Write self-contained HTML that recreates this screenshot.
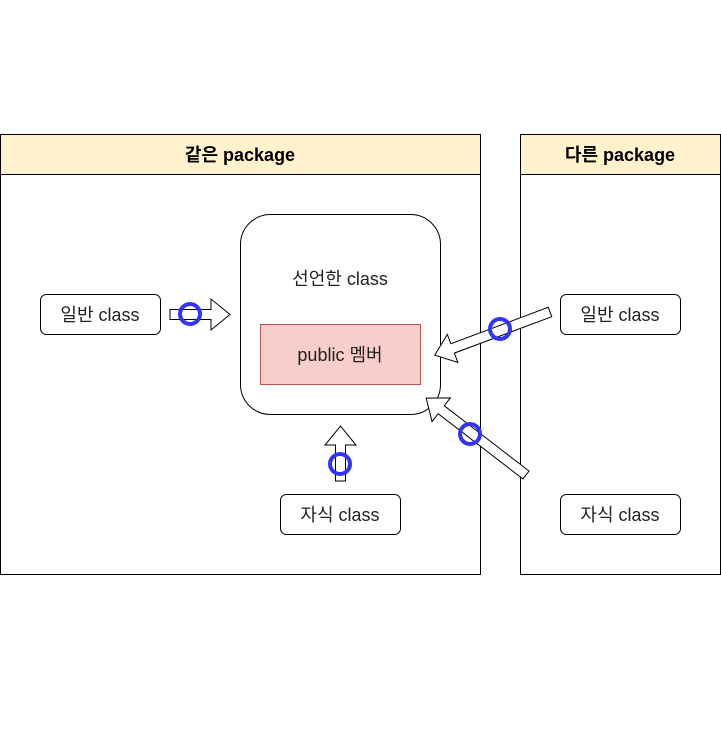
<!DOCTYPE html>
<html><head><meta charset="utf-8"><style>
body{margin:0;background:#fff}
text{font-family:"Liberation Sans","Noto Sans CJK KR",sans-serif}
</style></head><body>
<svg width="721" height="746" xmlns="http://www.w3.org/2000/svg">
<rect x="0.5" y="134.5" width="480" height="440" fill="#fff" stroke="#000"/>
<rect x="0.5" y="134.5" width="480" height="40" fill="#fff2cc" stroke="#000"/>
<text x="240" y="161" text-anchor="middle" font-size="18" font-weight="bold">같은 package</text>
<rect x="520.5" y="134.5" width="200" height="440" fill="#fff" stroke="#000"/>
<rect x="520.5" y="134.5" width="200" height="40" fill="#fff2cc" stroke="#000"/>
<text x="620" y="161" text-anchor="middle" font-size="18" font-weight="bold">다른 package</text>

<rect x="240.5" y="214.5" width="200" height="200" rx="30" fill="#fff" stroke="#000"/>
<text x="340" y="285" text-anchor="middle" font-size="18" fill="#222">선언한 class</text>
<rect x="260.5" y="324.5" width="160" height="60" fill="#f8cecc" stroke="#b85450"/>
<text x="340" y="361" text-anchor="middle" font-size="18" fill="#222">public 멤버</text>

<g fill="#fff" stroke="#000" font-size="18">
<rect x="40.5" y="294.5" width="120" height="40" rx="6"/>
<rect x="280.5" y="494.5" width="120" height="40" rx="6"/>
<rect x="560.5" y="294.5" width="120" height="40" rx="6"/>
<rect x="560.5" y="494.5" width="120" height="40" rx="6"/>
</g>
<g font-size="18" text-anchor="middle" fill="#222">
<text x="100" y="321">일반 class</text>
<text x="340" y="521">자식 class</text>
<text x="620" y="321">일반 class</text>
<text x="620" y="521">자식 class</text>
</g>

<g fill="#fff" stroke="#000">
<polygon points="170,309.5 211,309.5 211,299 230,314.5 211,330 211,319.5 170,319.5"/>
<polygon points="335.5,481 335.5,445 325,445 340.5,426 356,445 345.5,445 345.5,481"/>
<g transform="translate(550,312) rotate(159.5)">
<polygon points="0,-5 104,-5 104,-15 123,0 104,15 104,5 0,5"/>
</g>
<g transform="translate(526,475) rotate(217.6)">
<polygon points="0,-5 107,-5 107,-15 126,0 107,15 107,5 0,5"/>
</g>
</g>
<g fill="none" stroke="#3333ff" stroke-width="4">
<circle cx="190" cy="314" r="10"/>
<circle cx="340" cy="464" r="10"/>
<circle cx="500" cy="329" r="10"/>
<circle cx="470" cy="434" r="10"/>
</g>
</svg>
</body></html>
